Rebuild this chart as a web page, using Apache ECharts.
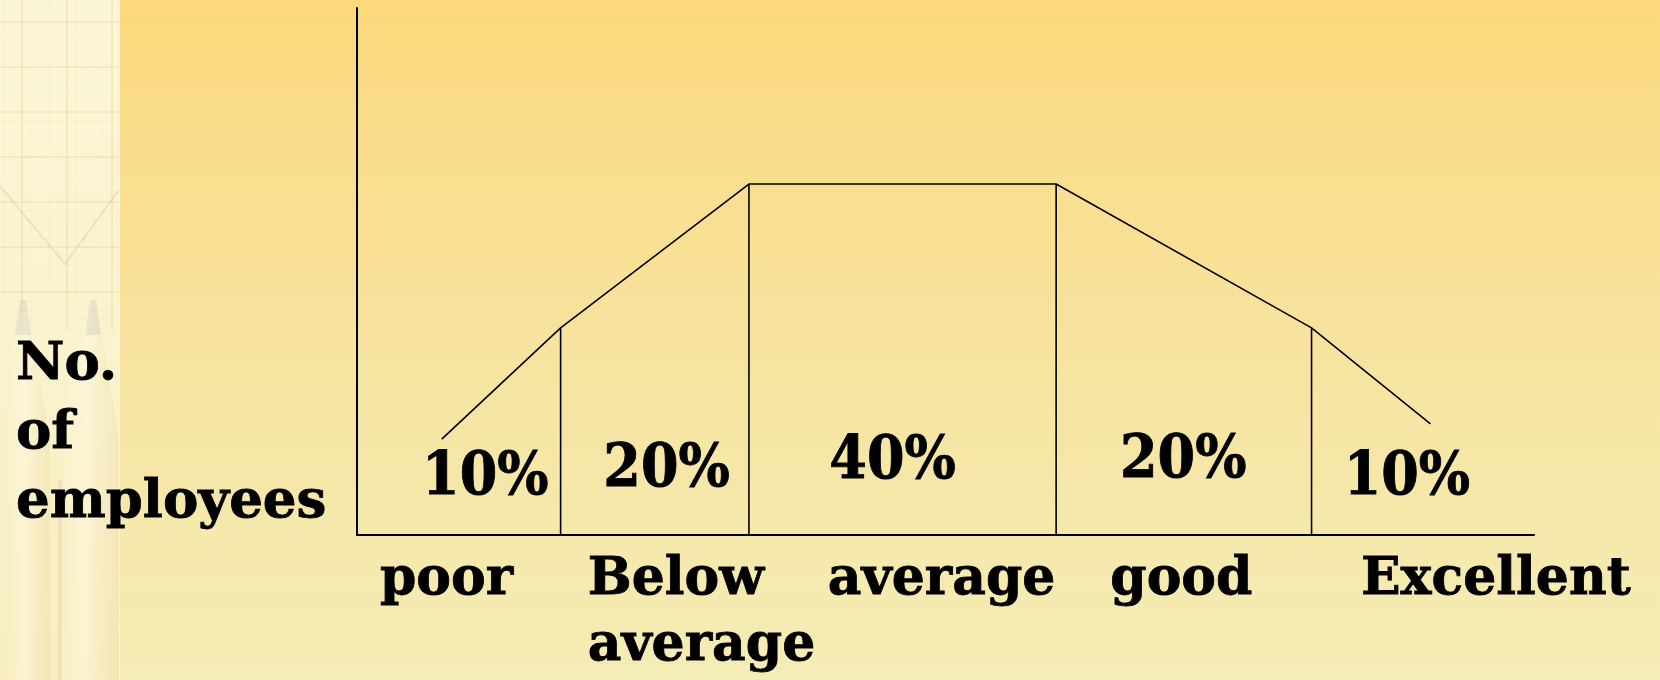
<!DOCTYPE html>
<html>
<head>
<meta charset="utf-8">
<script src="https://cdn.jsdelivr.net/npm/echarts@6/dist/echarts.min.js"></script>
<style>
html,body{margin:0;padding:0;width:1660px;height:680px;overflow:hidden;}
#chart{width:1660px;height:680px;}
</style>
</head>
<body>
<div id="chart"></div>
<script>
// ---- data ----
const grades = ['poor', 'Below\naverage', 'average', 'good', 'Excellent'];
const shares = [10, 20, 40, 20, 10];                 // % of employees per grade
const curveX = [7.2, 17.3, 33.3, 59.4, 81.1, 91.2];  // performance scale (0-100)
const curveY = [18.2, 39.3, 66.6, 66.6, 39.3, 21.1]; // relative no. of employees (0-100)
const yAxisTitle = 'No.\nof\nemployees';

// ---- layout of text annotations (in axis units) ----
const shareLabelX = [10.9, 26.3, 45.5, 70.2, 89.2];
const shareLabelY = [10.8, 12.3, 13.8, 14.0, 10.7];
const gradeLabelX = [1.95, 19.6, 40.0, 64.0, 85.3];

const chart = echarts.init(document.getElementById('chart'), null, {renderer: 'canvas'});

const serifFont = '"DejaVu Serif", "Liberation Serif", serif';
const condFont = '"DejaVu Serif Condensed", "DejaVu Serif", serif';

const series = [];
// the distribution curve
series.push({
  type: 'line',
  data: curveX.map((x, i) => [x, curveY[i]]),
  symbol: 'none',
  lineStyle: {color: '#000', width: 1.6},
  silent: true,
  z: 3
});
// vertical boundaries between grades (from axis up to the curve)
for (let i = 1; i < curveX.length - 1; i++) {
  series.push({
    type: 'line',
    data: [[curveX[i], 0], [curveX[i], curveY[i]]],
    symbol: 'none',
    lineStyle: {color: '#000', width: 1.6},
    silent: true,
    z: 3
  });
}
// share labels
series.push({
  type: 'scatter',
  symbolSize: 0,
  clip: false,
  silent: true,
  itemStyle: {opacity: 1},
  data: shares.map((s, i) => [shareLabelX[i], shareLabelY[i]]),
  label: {
    show: true,
    position: [0, 0],
    align: 'center',
    verticalAlign: 'middle',
    formatter: p => shares[p.dataIndex] + '%',
    fontFamily: condFont,
    fontWeight: 'bold',
    fontSize: 60,
    color: '#000',
    opacity: 1,
    textBorderColor: '#000',
    textBorderWidth: 0.8
  }
});
// grade labels under the axis
series.push({
  type: 'scatter',
  symbolSize: 0,
  clip: false,
  silent: true,
  itemStyle: {opacity: 1},
  data: grades.map((g, i) => [gradeLabelX[i], 0]),
  label: {
    show: true,
    position: [0, 12],
    align: 'left',
    verticalAlign: 'top',
    formatter: p => grades[p.dataIndex],
    fontFamily: serifFont,
    fontWeight: 'bold',
    fontSize: 52,
    lineHeight: 66,
    color: '#000',
    opacity: 1,
    textBorderColor: '#000',
    textBorderWidth: 0.8
  }
});

// decorative left strip (graph paper + pencils)
const deco = [];
deco.push({
  type: 'rect', left: 0, top: 0, silent: true, z: -10,
  shape: {x: 0, y: 0, width: 119, height: 680},
  style: {fill: {type: 'linear', x: 0, y: 0, x2: 0, y2: 1, colorStops: [
    {offset: 0, color: '#FCF6DA'}, {offset: 0.5, color: '#FBF3CF'}, {offset: 1, color: '#F8EDBC'}]}}
});
for (let x = 4; x < 119; x += 9) {
  const major = Math.round((x - 4) / 9) % 5 === 2;
  deco.push({type: 'line', silent: true, z: -9,
    shape: {x1: x, y1: 0, x2: x, y2: 330},
    style: {stroke: major ? 'rgba(225,200,130,0.28)' : 'rgba(230,210,150,0.16)', lineWidth: major ? 2 : 1}});
}
for (let y = 4; y < 330; y += 9) {
  const major = Math.round((y - 4) / 9) % 5 === 2;
  deco.push({type: 'line', silent: true, z: -9,
    shape: {x1: 0, y1: y, x2: 119, y2: y},
    style: {stroke: major ? 'rgba(225,200,130,0.28)' : 'rgba(230,210,150,0.16)', lineWidth: major ? 2 : 1}});
}
deco.push({type: 'polyline', silent: true, z: -8,
  shape: {points: [[0, 186], [65, 264], [119, 190]]},
  style: {stroke: 'rgba(215,150,130,0.22)', lineWidth: 2, fill: null}});
// pencils
const pencils = [[0, 50, 23], [52, 119, 93]];
pencils.forEach(([a, b, tip]) => {
  deco.push({type: 'polygon', silent: true, z: -8,
    shape: {points: [[tip - 5, 312], [tip + 5, 312], [b, 440], [b, 680], [a, 680], [a, 440]]},
    style: {fill: {type: 'linear', x: 0, y: 0, x2: 1, y2: 0, colorStops: [
      {offset: 0, color: 'rgba(248,238,195,0.55)'}, {offset: 0.5, color: 'rgba(253,248,222,0.6)'}, {offset: 1, color: 'rgba(238,222,168,0.45)'}]}}});
  deco.push({type: 'polygon', silent: true, z: -7,
    shape: {points: [[tip - 3, 300], [tip + 3, 300], [tip + 8, 335], [tip - 8, 335]]},
    style: {fill: 'rgba(185,185,170,0.25)'}});
});
deco.push({type: 'rect', silent: true, z: -7,
  shape: {x: 58, y: 480, width: 4, height: 200},
  style: {fill: 'rgba(220,200,150,0.35)'}});
deco.push({type: 'line', silent: true, z: -7,
  shape: {x1: 119.5, y1: 0, x2: 119.5, y2: 680},
  style: {stroke: 'rgba(255,250,225,0.8)', lineWidth: 1}});

chart.setOption({
  backgroundColor: {type: 'linear', x: 0, y: 0, x2: 0, y2: 1, colorStops: [
    {offset: 0, color: '#FBD97C'}, {offset: 0.5, color: '#F7E39F'}, {offset: 1, color: '#F4EDB6'}]},
  animation: false,
  title: {
    text: yAxisTitle,
    left: 16, top: 331, padding: 0,
    textStyle: {fontFamily: serifFont, fontWeight: 'bold', fontSize: 53, lineHeight: 69, color: '#000',
      textBorderColor: '#000', textBorderWidth: 0.8}
  },
  graphic: deco,
  grid: {left: 357, right: 126, top: 8, bottom: 145, containLabel: false},
  xAxis: {
    type: 'value', min: 0, max: 100,
    axisLine: {show: true, lineStyle: {color: '#000', width: 2.2}},
    axisTick: {show: false}, axisLabel: {show: false}, splitLine: {show: false}
  },
  yAxis: {
    type: 'value', min: 0, max: 100,
    axisLine: {show: true, lineStyle: {color: '#000', width: 2}},
    axisTick: {show: false}, axisLabel: {show: false}, splitLine: {show: false}
  },
  series: series
});
</script>
</body>
</html>
